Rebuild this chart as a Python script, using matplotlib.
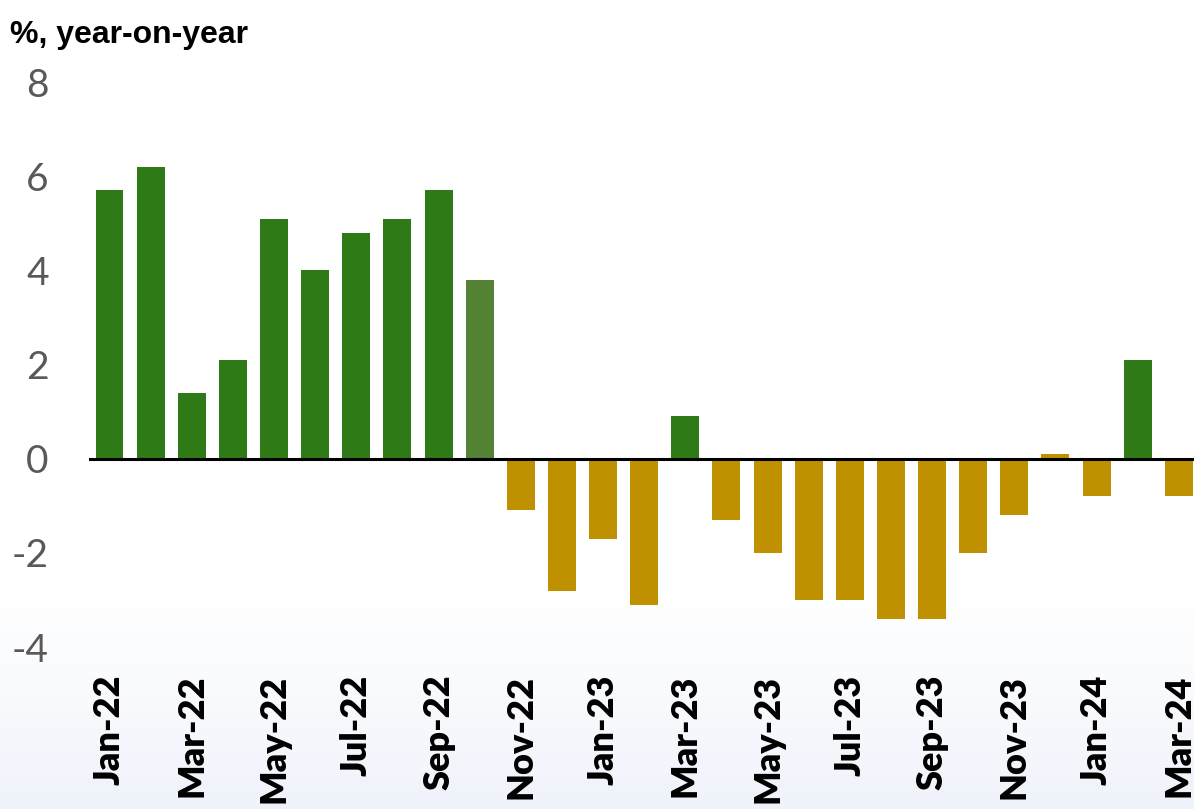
#recreating the year-on-year bar chart
import numpy as np
import matplotlib
matplotlib.use("Agg")
import matplotlib.pyplot as plt

#month labels for each bar
months = ["Jan-22", "Feb-22", "Mar-22", "Apr-22", "May-22", "Jun-22", "Jul-22",
          "Aug-22", "Sep-22", "Oct-22", "Nov-22", "Dec-22", "Jan-23", "Feb-23",
          "Mar-23", "Apr-23", "May-23", "Jun-23", "Jul-23", "Aug-23", "Sep-23",
          "Oct-23", "Nov-23", "Dec-23", "Jan-24", "Feb-24", "Mar-24"]

#year-on-year change in %
values = [5.7, 6.2, 1.4, 2.1, 5.1, 4.0, 4.8, 5.1, 5.7, 3.8, -1.1, -2.8, -1.7, -3.1,
          0.9, -1.3, -2.0, -3.0, -3.0, -3.4, -3.4, -2.0, -1.2, 0.1, -0.8, 2.1, -0.8]

#y axis ticks
y_ticks = [-4, -2, 0, 2, 4, 6, 8]

#colours: green for growth, gold for decline, Oct-22 is a lighter green
green = "#2E7A17"
light_green = "#548235"
gold = "#BF9000"
colors = [green if v > 0.5 else gold for v in values]
colors[9] = light_green

fig = plt.figure(figsize=(11.94, 8.09), dpi=100)

#faint background gradient at the bottom
bg = fig.add_axes([0, 0, 1, 1], zorder=0)
grad = np.linspace(0, 1, 200)
grad = np.clip((grad - 0.7) / 0.3, 0, 1) ** 1.5
bg_img = np.ones((200, 1, 3))
bg_img[:, 0, 0] = 1 - 0.065 * grad
bg_img[:, 0, 1] = 1 - 0.05 * grad
bg_img[:, 0, 2] = 1 - 0.02 * grad
bg.imshow(bg_img, aspect="auto", extent=[0, 1, 0, 1], origin="upper")
bg.axis("off")

ax = fig.add_axes([0.0745, 0.2002, 0.93, 0.6984], zorder=1)
ax.patch.set_alpha(0)

x = np.arange(len(values))
ax.bar(x, values, width=0.68, color=colors, zorder=2)
ax.axhline(0, color="black", lw=2.2, zorder=3)

ax.set_xlim(-0.5, len(values) - 0.5)
ax.set_ylim(-4, 8)
ax.set_yticks(y_ticks)
ax.set_yticklabels([str(t) for t in y_ticks], fontsize=28, color="#595959",
                   family="Lato")
ax.set_xticks(x[::2])
ax.set_xticklabels(months[::2], rotation=90, fontsize=26, fontweight="heavy",
                   family="Lato")
ax.tick_params(axis="y", length=0, pad=29)
ax.tick_params(axis="x", length=0, pad=20)
for s in ax.spines.values():
    s.set_visible(False)

fig.text(0.008, 0.975, "%, year-on-year", fontsize=23, fontweight="bold",
         family="Liberation Sans", va="top", ha="left")

fig.savefig("out.png", dpi=100)
